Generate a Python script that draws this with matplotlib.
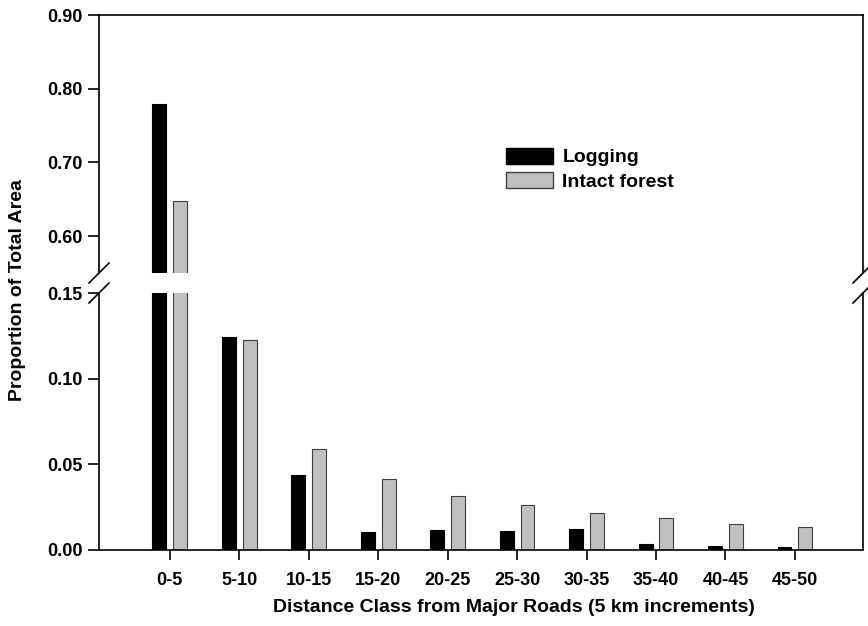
import matplotlib
matplotlib.use("Agg")
import matplotlib.pyplot as plt
import numpy as np
from matplotlib.patches import Patch

plt.rcParams["font.family"] = ["Liberation Sans", "DejaVu Sans"]
plt.rcParams["font.weight"] = "bold"

classes = ["0-5", "5-10", "10-15", "15-20", "20-25", "25-30",
           "30-35", "35-40", "40-45", "45-50"]
logging = [0.779, 0.1244, 0.0436, 0.0106, 0.0116, 0.0112,
           0.0120, 0.0033, 0.0023, 0.0019]
intact = [0.648, 0.1227, 0.0587, 0.0417, 0.0316, 0.0260,
          0.0217, 0.0188, 0.0153, 0.0132]

upper_ticks = [0.60, 0.70, 0.80, 0.90]
lower_ticks = [0.00, 0.05, 0.10, 0.15]

x = np.arange(len(classes))
w = 0.2
off = 0.15
gray = "#c0c0c0"

fig = plt.figure(figsize=(8.68, 6.26), dpi=100)
left, width = 99 / 868, 764 / 868
ax_top = fig.add_axes([left, 1 - 273 / 626, width, (273 - 15) / 626])
ax_bot = fig.add_axes([left, 1 - 550 / 626, width, (550 - 293) / 626])

for ax in (ax_top, ax_bot):
    ax.bar(x - off, logging, w, color="black", edgecolor="black", linewidth=0.8)
    ax.bar(x + off, intact, w, color=gray, edgecolor="#404040", linewidth=0.8)
    ax.set_xlim(-1.02, 9.98)
    for s in ax.spines.values():
        s.set_linewidth(1.2)
    ax.tick_params(direction="out", width=1.2, labelsize=13)
    ax.tick_params(axis="y", length=8, pad=4)

ax_top.set_ylim(0.55, 0.90)
ax_top.set_yticks(upper_ticks)
ax_top.set_yticklabels([f"{t:.2f}" for t in upper_ticks])
ax_top.spines["bottom"].set_visible(False)
ax_top.tick_params(axis="x", bottom=False, labelbottom=False)

ax_bot.set_ylim(0.0, 0.15)
ax_bot.set_yticks(lower_ticks)
ax_bot.set_yticklabels([f"{t:.2f}" for t in lower_ticks])
ax_bot.spines["top"].set_visible(False)
ax_bot.set_xticks(x)
ax_bot.set_xticklabels(classes)
ax_bot.tick_params(axis="x", length=7, pad=9)
ax_bot.set_xlabel("Distance Class from Major Roads (5 km increments)",
                  fontsize=14, fontweight="bold")
ax_bot.xaxis.set_label_coords((514 - 99) / 764, -(608 - 550) / 257,
                              transform=ax_bot.transAxes)
ax_bot.xaxis.label.set_va("center")

# break marks on both side spines
for xs in (99, 863):
    for yc in (273, 293):
        fig.add_artist(plt.Line2D(
            [(xs - 10) / 868, (xs + 10) / 868],
            [1 - (yc + 10) / 626, 1 - (yc - 10) / 626],
            color="black", linewidth=1.2))

fig.text(18 / 868, 1 - 290 / 626, "Proportion of Total Area", rotation=90,
         ha="center", va="center", fontsize=14, fontweight="bold")

handles = [Patch(facecolor="black", edgecolor="black", label="Logging"),
           Patch(facecolor=gray, edgecolor="#404040", label="Intact forest")]
fig.legend(handles=handles, loc="upper left",
           bbox_to_anchor=(506 / 868, 1 - 148 / 626), frameon=False,
           borderpad=0, borderaxespad=0,
           handlelength=2.4, handleheight=0.85,
           handletextpad=0.5, labelspacing=0.3,
           prop={"weight": "bold", "size": 14})

fig.savefig("out.png", dpi=100)
